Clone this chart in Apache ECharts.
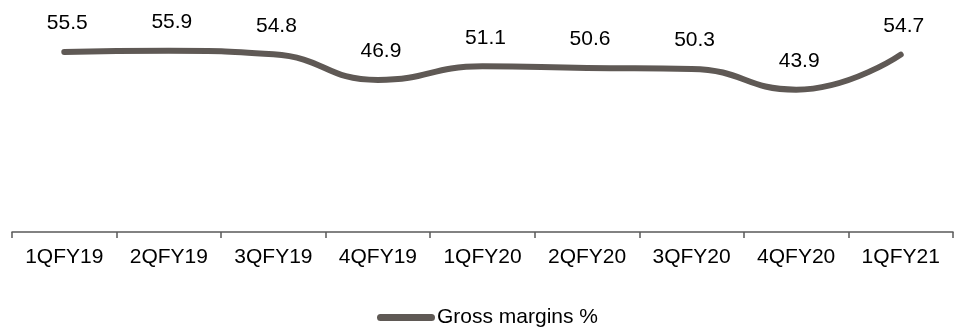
<!DOCTYPE html>
<html>
<head>
<meta charset="utf-8">
<script src="https://cdn.jsdelivr.net/npm/echarts@6/dist/echarts.min.js"></script>
<style>
  html, body { margin: 0; padding: 0; background: #fff; }
  #chart { width: 962px; height: 331px; }
</style>
</head>
<body>
<div id="chart"></div>
<script>
// Quarterly gross margin trend
const quarters = ['1QFY19', '2QFY19', '3QFY19', '4QFY19', '1QFY20', '2QFY20', '3QFY20', '4QFY20', '1QFY21'];
const grossMargins = [55.5, 55.9, 54.8, 46.9, 51.1, 50.6, 50.3, 43.9, 54.7];
const seriesName = 'Gross margins %';

const font = 'Liberation Sans, Arial, sans-serif';
const lineColor = '#5f5955';

const chart = echarts.init(document.getElementById('chart'), null, { renderer: 'canvas' });
chart.setOption({
  animation: false,
  backgroundColor: '#ffffff',
  grid: { left: 12, right: 9, top: 5, bottom: 99, containLabel: false },
  legend: {
    data: [{ name: seriesName, icon: 'path://M3.5,0 L54.5,0 A3.5,3.5 0 0 1 54.5,7 L3.5,7 A3.5,3.5 0 0 1 3.5,0 Z' }],
    left: 372,
    top: 302,
    itemWidth: 58,
    itemHeight: 7,
    itemGap: 10,
    textStyle: { fontFamily: font, fontSize: 21, color: '#000', padding: [0, 0, 0, -3] }
  },
  xAxis: {
    type: 'category',
    data: quarters,
    boundaryGap: true,
    axisLine: { show: true, lineStyle: { color: '#595959', width: 1.5 } },
    axisTick: { show: true, length: 6, lineStyle: { color: '#595959', width: 1.5 } },
    axisLabel: { fontFamily: font, fontSize: 21, color: '#000', margin: 15 },
    splitLine: { show: false }
  },
  yAxis: {
    type: 'value',
    min: 0,
    max: 70,
    show: false,
    splitLine: { show: false }
  },
  series: [{
    name: seriesName,
    type: 'line',
    data: grossMargins,
    smooth: 0.5,
    symbol: 'circle',
    symbolSize: 0,
    showSymbol: true,
    lineStyle: { color: lineColor, width: 6, cap: 'round' },
    itemStyle: { color: lineColor },
    label: {
      show: true,
      position: 'top',
      distance: 18,
      offset: [3, 0],
      fontFamily: font,
      fontSize: 21,
      color: '#000',
      formatter: p => p.value.toFixed(1)
    }
  }]
});
</script>
</body>
</html>
